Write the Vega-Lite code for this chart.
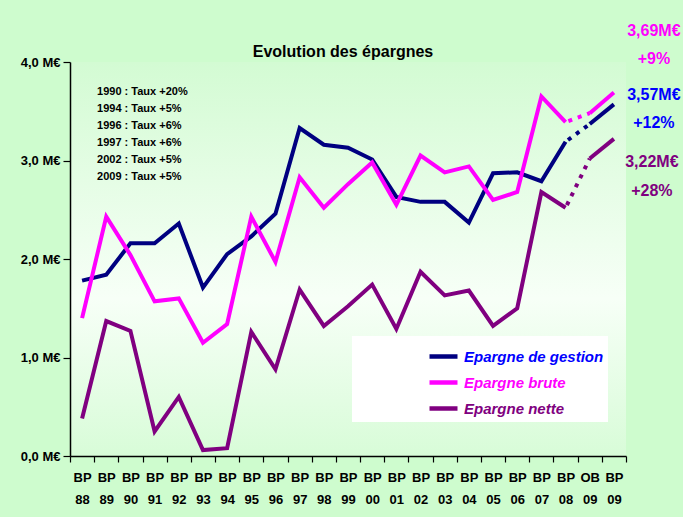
{
  "$schema": "https://vega.github.io/schema/vega-lite/v6.json",
  "width": 556,
  "height": 394,
  "autosize": {"type": "none"},
  "padding": {"left": 70, "top": 62, "right": 57, "bottom": 61},
  "background": "#cefcce",
  "title": {
    "text": "Evolution des épargnes",
    "font": "Liberation Sans, Arial, sans-serif",
    "fontSize": 16,
    "fontWeight": "bold",
    "color": "#000000",
    "anchor": "middle",
    "frame": "group",
    "dx": -5,
    "dy": 41,
    "offset": 4
  },
  "config": {
    "view": {
      "stroke": null,
      "fill": {
        "gradient": "linear",
        "x1": 0, "y1": 0, "x2": 0, "y2": 1,
        "stops": [
          {"offset": 0, "color": "#d3fbd3"},
          {"offset": 0.6, "color": "#f7fff7"},
          {"offset": 1, "color": "#d8fcd8"}
        ]
      }
    },
    "font": "Liberation Sans, Arial, sans-serif"
  },
  "datasets": {
    "epargnes": [
      {"cat": "BP 88", "series": "Epargne de gestion", "value": 1.78, "taux": "1990 : Taux +20%\n1994 : Taux +5%\n1996 : Taux +6%\n1997 : Taux +6%\n2002 : Taux +5%\n2009 : Taux +5%"},
      {"cat": "BP 89", "series": "Epargne de gestion", "value": 1.84},
      {"cat": "BP 90", "series": "Epargne de gestion", "value": 2.16},
      {"cat": "BP 91", "series": "Epargne de gestion", "value": 2.16},
      {"cat": "BP 92", "series": "Epargne de gestion", "value": 2.36},
      {"cat": "BP 93", "series": "Epargne de gestion", "value": 1.71},
      {"cat": "BP 94", "series": "Epargne de gestion", "value": 2.05},
      {"cat": "BP 95", "series": "Epargne de gestion", "value": 2.23},
      {"cat": "BP 96", "series": "Epargne de gestion", "value": 2.46},
      {"cat": "BP 97", "series": "Epargne de gestion", "value": 3.33},
      {"cat": "BP 98", "series": "Epargne de gestion", "value": 3.16},
      {"cat": "BP 99", "series": "Epargne de gestion", "value": 3.13},
      {"cat": "BP 00", "series": "Epargne de gestion", "value": 3.01},
      {"cat": "BP 01", "series": "Epargne de gestion", "value": 2.63},
      {"cat": "BP 02", "series": "Epargne de gestion", "value": 2.58},
      {"cat": "BP 03", "series": "Epargne de gestion", "value": 2.58},
      {"cat": "BP 04", "series": "Epargne de gestion", "value": 2.37},
      {"cat": "BP 05", "series": "Epargne de gestion", "value": 2.87},
      {"cat": "BP 06", "series": "Epargne de gestion", "value": 2.88},
      {"cat": "BP 07", "series": "Epargne de gestion", "value": 2.79},
      {"cat": "BP 08", "series": "Epargne de gestion", "value": 3.19},
      {"cat": "OB 09", "series": "Epargne de gestion", "value": 3.37},
      {"cat": "BP 09", "series": "Epargne de gestion", "value": 3.57, "note": "3,57M€\n+12%"},
      {"cat": "BP 88", "series": "Epargne brute", "value": 1.40},
      {"cat": "BP 89", "series": "Epargne brute", "value": 2.43},
      {"cat": "BP 90", "series": "Epargne brute", "value": 2.04},
      {"cat": "BP 91", "series": "Epargne brute", "value": 1.57},
      {"cat": "BP 92", "series": "Epargne brute", "value": 1.60},
      {"cat": "BP 93", "series": "Epargne brute", "value": 1.15},
      {"cat": "BP 94", "series": "Epargne brute", "value": 1.34},
      {"cat": "BP 95", "series": "Epargne brute", "value": 2.43},
      {"cat": "BP 96", "series": "Epargne brute", "value": 1.97},
      {"cat": "BP 97", "series": "Epargne brute", "value": 2.83},
      {"cat": "BP 98", "series": "Epargne brute", "value": 2.52},
      {"cat": "BP 99", "series": "Epargne brute", "value": 2.76},
      {"cat": "BP 00", "series": "Epargne brute", "value": 2.98},
      {"cat": "BP 01", "series": "Epargne brute", "value": 2.55},
      {"cat": "BP 02", "series": "Epargne brute", "value": 3.05},
      {"cat": "BP 03", "series": "Epargne brute", "value": 2.88},
      {"cat": "BP 04", "series": "Epargne brute", "value": 2.94},
      {"cat": "BP 05", "series": "Epargne brute", "value": 2.60},
      {"cat": "BP 06", "series": "Epargne brute", "value": 2.68},
      {"cat": "BP 07", "series": "Epargne brute", "value": 3.65},
      {"cat": "BP 08", "series": "Epargne brute", "value": 3.39},
      {"cat": "OB 09", "series": "Epargne brute", "value": 3.48},
      {"cat": "BP 09", "series": "Epargne brute", "value": 3.69, "note": "3,69M€\n+9%"},
      {"cat": "BP 88", "series": "Epargne nette", "value": 0.38},
      {"cat": "BP 89", "series": "Epargne nette", "value": 1.37},
      {"cat": "BP 90", "series": "Epargne nette", "value": 1.27},
      {"cat": "BP 91", "series": "Epargne nette", "value": 0.25},
      {"cat": "BP 92", "series": "Epargne nette", "value": 0.60},
      {"cat": "BP 93", "series": "Epargne nette", "value": 0.06},
      {"cat": "BP 94", "series": "Epargne nette", "value": 0.08},
      {"cat": "BP 95", "series": "Epargne nette", "value": 1.26},
      {"cat": "BP 96", "series": "Epargne nette", "value": 0.88},
      {"cat": "BP 97", "series": "Epargne nette", "value": 1.69},
      {"cat": "BP 98", "series": "Epargne nette", "value": 1.32},
      {"cat": "BP 99", "series": "Epargne nette", "value": 1.52},
      {"cat": "BP 00", "series": "Epargne nette", "value": 1.74},
      {"cat": "BP 01", "series": "Epargne nette", "value": 1.29},
      {"cat": "BP 02", "series": "Epargne nette", "value": 1.87},
      {"cat": "BP 03", "series": "Epargne nette", "value": 1.63},
      {"cat": "BP 04", "series": "Epargne nette", "value": 1.68},
      {"cat": "BP 05", "series": "Epargne nette", "value": 1.32},
      {"cat": "BP 06", "series": "Epargne nette", "value": 1.50},
      {"cat": "BP 07", "series": "Epargne nette", "value": 2.68},
      {"cat": "BP 08", "series": "Epargne nette", "value": 2.52},
      {"cat": "OB 09", "series": "Epargne nette", "value": 3.02},
      {"cat": "BP 09", "series": "Epargne nette", "value": 3.22, "note": "3,22M€\n+28%"}
    ]
  },
  "data": {"name": "epargnes"},
  "encoding": {
    "x": {
      "field": "cat",
      "type": "ordinal",
      "sort": null,
      "bandPosition": 0.5,
      "scale": {"type": "band", "paddingInner": 0, "paddingOuter": 0},
      "axis": {
        "title": null,
        "labelAngle": 0,
        "labelExpr": "split(datum.label, ' ')",
        "labelFontSize": 13,
        "labelFontWeight": "bold",
        "labelColor": "#000000",
        "labelLineHeight": 22,
        "labelPadding": 9,
        "tickBand": "extent",
        "tickSize": 6,
        "tickColor": "#000000",
        "domainColor": "#000000",
        "domainWidth": 1.5,
        "tickWidth": 1.2,
        "grid": false
      }
    },
    "y": {
      "field": "value",
      "type": "quantitative",
      "scale": {"domain": [0, 4], "nice": false},
      "axis": {
        "title": null,
        "values": [0, 1, 2, 3, 4],
        "labelExpr": "replace(format(datum.value, '.1f'), '.', ',') + ' M€'",
        "labelFontSize": 13,
        "labelFontWeight": "bold",
        "labelColor": "#000000",
        "labelPadding": 3,
        "tickSize": 7,
        "tickColor": "#000000",
        "domainColor": "#000000",
        "domainWidth": 1.5,
        "tickWidth": 1.2,
        "grid": false
      }
    }
  },
  "layer": [
    {
      "transform": [{"filter": "indexof(['OB 09', 'BP 09'], datum.cat) < 0"}],
      "mark": {"type": "line", "strokeWidth": 4, "strokeCap": "butt"},
      "encoding": {
        "color": {
          "field": "series",
          "type": "nominal",
          "scale": {
            "domain": ["Epargne de gestion", "Epargne brute", "Epargne nette"],
            "range": ["#000080", "#ff00ff", "#800080"]
          },
          "legend": {
            "title": null,
            "orient": "none",
            "legendX": 282,
            "legendY": 274,
            "fillColor": "#ffffff",
            "padding": 4,
            "symbolOffset": 71,
            "symbolType": "stroke",
            "symbolSize": 784,
            "symbolStrokeWidth": 4.5,
            "labelOffset": 4,
            "labelFontSize": 15,
            "labelFontWeight": "bold",
            "labelFontStyle": "italic",
            "labelExpr": "datum.label + '            '",
            "rowPadding": -2,
            "labelLimit": 400,
            "encode": {
              "labels": {
                "update": {
                  "fill": {"signal": "datum.value === 'Epargne de gestion' ? '#0000ff' : datum.value === 'Epargne brute' ? '#ff00ff' : '#800080'"}
                }
              }
            }
          }
        }
      }
    },
    {
      "transform": [{"filter": "indexof(['BP 08', 'OB 09'], datum.cat) >= 0"}],
      "mark": {"type": "line", "strokeWidth": 4, "strokeCap": "butt", "strokeDash": [4, 6], "strokeDashOffset": 7},
      "encoding": {"color": {"field": "series", "type": "nominal"}}
    },
    {
      "transform": [{"filter": "indexof(['OB 09', 'BP 09'], datum.cat) >= 0"}],
      "mark": {"type": "line", "strokeWidth": 4, "strokeCap": "butt"},
      "encoding": {"color": {"field": "series", "type": "nominal"}}
    },
    {
      "transform": [{"filter": "datum.note != null && datum.series === 'Epargne brute'"}],
      "mark": {"type": "text", "lineBreak": "\n", "lineHeight": 28, "fontSize": 16, "fontWeight": "bold", "color": "#ff00ff", "align": "center", "baseline": "middle", "dx": 40, "dy": -62},
      "encoding": {"text": {"field": "note"}}
    },
    {
      "transform": [{"filter": "datum.note != null && datum.series === 'Epargne de gestion'"}],
      "mark": {"type": "text", "lineBreak": "\n", "lineHeight": 28, "fontSize": 16, "fontWeight": "bold", "color": "#0000ff", "align": "center", "baseline": "middle", "dx": 40, "dy": -9},
      "encoding": {"text": {"field": "note"}}
    },
    {
      "transform": [{"filter": "datum.note != null && datum.series === 'Epargne nette'"}],
      "mark": {"type": "text", "lineBreak": "\n", "lineHeight": 29, "fontSize": 16, "fontWeight": "bold", "color": "#800080", "align": "center", "baseline": "middle", "dx": 38, "dy": 23},
      "encoding": {"text": {"field": "note"}}
    },
    {
      "transform": [{"filter": "datum.taux != null"}],
      "mark": {"type": "text", "lineBreak": "\n", "lineHeight": 17, "fontSize": 11, "fontWeight": "bold", "color": "#000000", "align": "left", "baseline": "middle", "dx": 15},
      "encoding": {
        "y": {"datum": 3.7},
        "text": {"field": "taux"}
      }
    }
  ]
}
